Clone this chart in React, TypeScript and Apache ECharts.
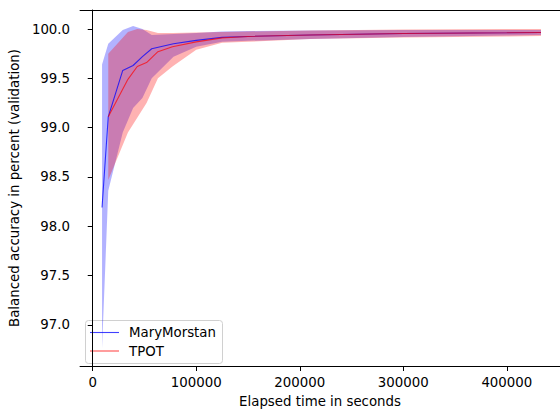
import React, { useEffect, useRef } from "react";
import * as echarts from "echarts";

// MaryMorstan
const mmTime = [9000, 15000, 29000, 39000, 48000, 57000, 78000, 100000, 125000, 150000, 210000, 300000, 400000, 433000];
const mmMean = [98.19, 99.11, 99.58, 99.63, 99.72, 99.8, 99.85, 99.885, 99.915, 99.925, 99.94, 99.955, 99.962, 99.965];
const mmUpper = [99.64, 99.85, 99.99, 100.03, 100.0, 99.94, 99.95, 99.96, 99.975, 99.98, 99.985, 99.99, 99.99, 99.99];
const mmLower = [96.76, 98.36, 98.95, 99.2, 99.3, 99.5, 99.72, 99.82, 99.87, 99.88, 99.9, 99.92, 99.935, 99.94];

// TPOT
const tpTime = [15000, 34000, 43000, 52000, 63000, 77000, 100000, 125000, 150000, 210000, 300000, 400000, 433000];
const tpMean = [99.11, 99.49, 99.62, 99.66, 99.77, 99.82, 99.87, 99.91, 99.925, 99.94, 99.955, 99.962, 99.965];
const tpUpper = [99.75, 99.97, 100.0, 99.99, 99.96, 99.96, 99.965, 99.97, 99.975, 99.985, 99.995, 100.0, 100.0];
const tpLower = [98.47, 98.95, 99.1, 99.25, 99.5, 99.62, 99.79, 99.86, 99.87, 99.9, 99.915, 99.925, 99.93];

const xTicks = [0, 100000, 200000, 300000, 400000];
const yTicks = [97.0, 97.5, 98.0, 98.5, 99.0, 99.5, 100.0];

const FONT = "DejaVu Sans";
const FS = 13.33;

function bandSeries(name: string, xs: number[], up: number[], lo: number[], fill: string) {
  return {
    type: "custom",
    name,
    coordinateSystem: "cartesian2d",
    xAxisIndex: 0,
    yAxisIndex: 0,
    silent: true,
    data: [[xs[0], up[0]]],
    encode: { x: 0, y: 1 },
    renderItem: (params: any, api: any) => {
      const pts: number[][] = [];
      for (let i = 0; i < xs.length; i++) pts.push(api.coord([xs[i], up[i]]));
      for (let i = xs.length - 1; i >= 0; i--) pts.push(api.coord([xs[i], lo[i]]));
      return { type: "polygon", shape: { points: pts }, style: { fill, stroke: null } };
    },
  };
}

export default function App() {
  const ref = useRef<HTMLDivElement>(null);
  useEffect(() => {
    document.body.style.margin = "0";
    const chart = echarts.init(ref.current!, null, { renderer: "svg" });
    const xMin = -12240;
    const xMax = 451370;
    chart.setOption({
      animation: false,
      backgroundColor: "#fff",
      textStyle: { fontFamily: FONT },
      grid: { left: 79, right: 0, top: 10, bottom: 42, containLabel: false },
      xAxis: [
        {
          type: "value",
          min: xMin,
          max: xMax,
          name: "Elapsed time in seconds",
          nameLocation: "middle",
          nameGap: 29,
          nameTextStyle: { fontFamily: FONT, fontSize: FS, color: "#000" },
          axisLine: { show: true, lineStyle: { color: "#000", width: 1 } },
          axisTick: { show: true, length: 5, lineStyle: { color: "#000", width: 1 }, customValues: xTicks },
          axisLabel: {
            color: "#000",
            fontFamily: FONT,
            fontSize: FS,
            margin: 10,
            customValues: xTicks,
            formatter: (v: number) => String(Math.round(v)),
          },
          splitLine: { show: false },
        },
        {
          type: "value",
          position: "top",
          min: xMin,
          max: xMax,
          axisLine: { show: true, onZero: false, lineStyle: { color: "#000", width: 1 } },
          axisTick: { show: false },
          axisLabel: { show: false },
          splitLine: { show: false },
        },
      ],
      yAxis: {
        type: "value",
        min: 96.583,
        max: 100.193,
        name: "Balanced accuracy in percent (validation)",
        nameLocation: "middle",
        nameGap: 50,
        nameTextStyle: { fontFamily: FONT, fontSize: FS, color: "#000" },
        axisLine: { show: true, lineStyle: { color: "#000", width: 1 } },
        axisTick: { show: true, length: 5, lineStyle: { color: "#000", width: 1 }, customValues: yTicks },
        axisLabel: {
          color: "#000",
          fontFamily: FONT,
          fontSize: FS,
          margin: 10,
          customValues: yTicks,
          formatter: (v: number) => v.toFixed(1),
        },
        splitLine: { show: false },
      },
      series: [
        bandSeries("MaryMorstan band", mmTime, mmUpper, mmLower, "rgba(0,0,255,0.3)"),
        bandSeries("TPOT band", tpTime, tpUpper, tpLower, "rgba(255,0,0,0.3)"),
        {
          type: "line",
          name: "MaryMorstan",
          data: mmTime.map((t, i) => [t, mmMean[i]]),
          showSymbol: false,
          symbol: "none",
          lineStyle: { color: "rgba(0,0,255,0.75)", width: 1.1 },
          itemStyle: { color: "rgba(0,0,255,0.75)" },
        },
        {
          type: "line",
          name: "TPOT",
          data: tpTime.map((t, i) => [t, tpMean[i]]),
          showSymbol: false,
          symbol: "none",
          lineStyle: { color: "rgba(255,0,0,0.7)", width: 1.1 },
          itemStyle: { color: "rgba(255,0,0,0.7)" },
        },
      ],
      graphic: [
        {
          type: "group",
          left: 85,
          top: 320,
          children: [
            {
              type: "rect",
              shape: { x: 0.5, y: 0.5, width: 137, height: 43, r: 3 },
              style: { fill: "rgba(255,255,255,0.8)", stroke: "#d0d0d0", lineWidth: 1 },
            },
            { type: "line", shape: { x1: 5, y1: 12.5, x2: 34, y2: 12.5 }, style: { stroke: "rgba(0,0,255,0.75)", lineWidth: 1.1 } },
            { type: "text", x: 44, y: 12.5, style: { text: "MaryMorstan", fill: "#000", font: `${FS}px ${FONT}`, textVerticalAlign: "middle" } },
            { type: "line", shape: { x1: 5, y1: 31, x2: 34, y2: 31 }, style: { stroke: "rgba(255,0,0,0.7)", lineWidth: 1.1 } },
            { type: "text", x: 44, y: 31, style: { text: "TPOT", fill: "#000", font: `${FS}px ${FONT}`, textVerticalAlign: "middle" } },
          ],
        },
      ],
    });
    return () => chart.dispose();
  }, []);
  return <div ref={ref} style={{ width: 560, height: 413, position: "fixed", left: 0, top: 0 }} />;
}
